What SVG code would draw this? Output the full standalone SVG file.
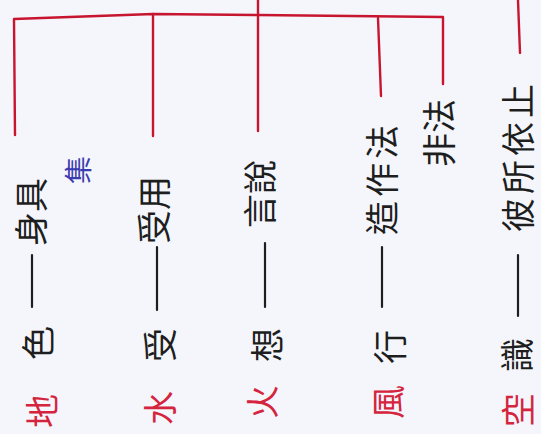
<svg xmlns="http://www.w3.org/2000/svg" width="541" height="434" viewBox="0 0 541 434">
<style>
  text { font-family: "Noto Sans CJK TC", "Noto Sans CJK SC", sans-serif; text-anchor: middle; dominant-baseline: central; font-size: 34px; fill: #1e1e1e; }
  .el { fill: #d4243e; }
  .note { fill: #3b3bb0; font-size: 28px; }
  .br { fill: none; stroke: #c8152f; stroke-width: 2.4; stroke-linecap: round; stroke-linejoin: round; }
  .dash { stroke: #1e1e1e; stroke-width: 2.2; stroke-linecap: round; }
</style>
<rect width="541" height="434" fill="#f4f6fb"/>
<g id="connectors">
  <path class="br" d="M15,135 L14,19 L153,14 L258,15 L443,17 L443,84"/>
  <path class="br" d="M153,14 L153,136"/>
  <path class="br" d="M258,0 L258,131"/>
  <path class="br" d="M378,18 L381,96"/>
  <path class="br" d="M518,0 L520,53"/>
  <line class="dash" x1="32" y1="255" x2="32" y2="307"/>
  <line class="dash" x1="157" y1="247" x2="157" y2="310"/>
  <line class="dash" x1="265" y1="243" x2="265" y2="307"/>
  <line class="dash" x1="382" y1="247" x2="382" y2="307"/>
  <line class="dash" x1="518" y1="255" x2="518" y2="316"/>
</g>
<g id="row-earth">
  <text class="el" transform="translate(40,411) rotate(-90)">地</text>
  <text transform="translate(36,343) rotate(-90)">色</text>
  <text transform="translate(29,212) rotate(-90)">身具</text>
  <text class="note" transform="translate(77,170) rotate(-90)">集</text>
</g>
<g id="row-water">
  <text class="el" transform="translate(158,408) rotate(-90)">水</text>
  <text transform="translate(158,345) rotate(-90)">受</text>
  <text transform="translate(152,210) rotate(-90)">受用</text>
</g>
<g id="row-fire">
  <text class="el" transform="translate(260,402) rotate(-90)">火</text>
  <text transform="translate(265,345) rotate(-90)">想</text>
  <text transform="translate(258,194) rotate(-90)">言說</text>
</g>
<g id="row-wind">
  <text class="el" transform="translate(386,402) rotate(-90)">風</text>
  <text transform="translate(388,347) rotate(-90)">行</text>
  <text transform="translate(380,178) rotate(-90)" letter-spacing="4">造作法</text>
  <text transform="translate(437,133) rotate(-90)" font-size="30">非法</text>
</g>
<g id="row-space">
  <text class="el" transform="translate(516,410) rotate(-90)">空</text>
  <text transform="translate(515,355) rotate(-90)">識</text>
  <text transform="translate(516,156) rotate(-90)" letter-spacing="4">彼所依止</text>
</g>
</svg>
